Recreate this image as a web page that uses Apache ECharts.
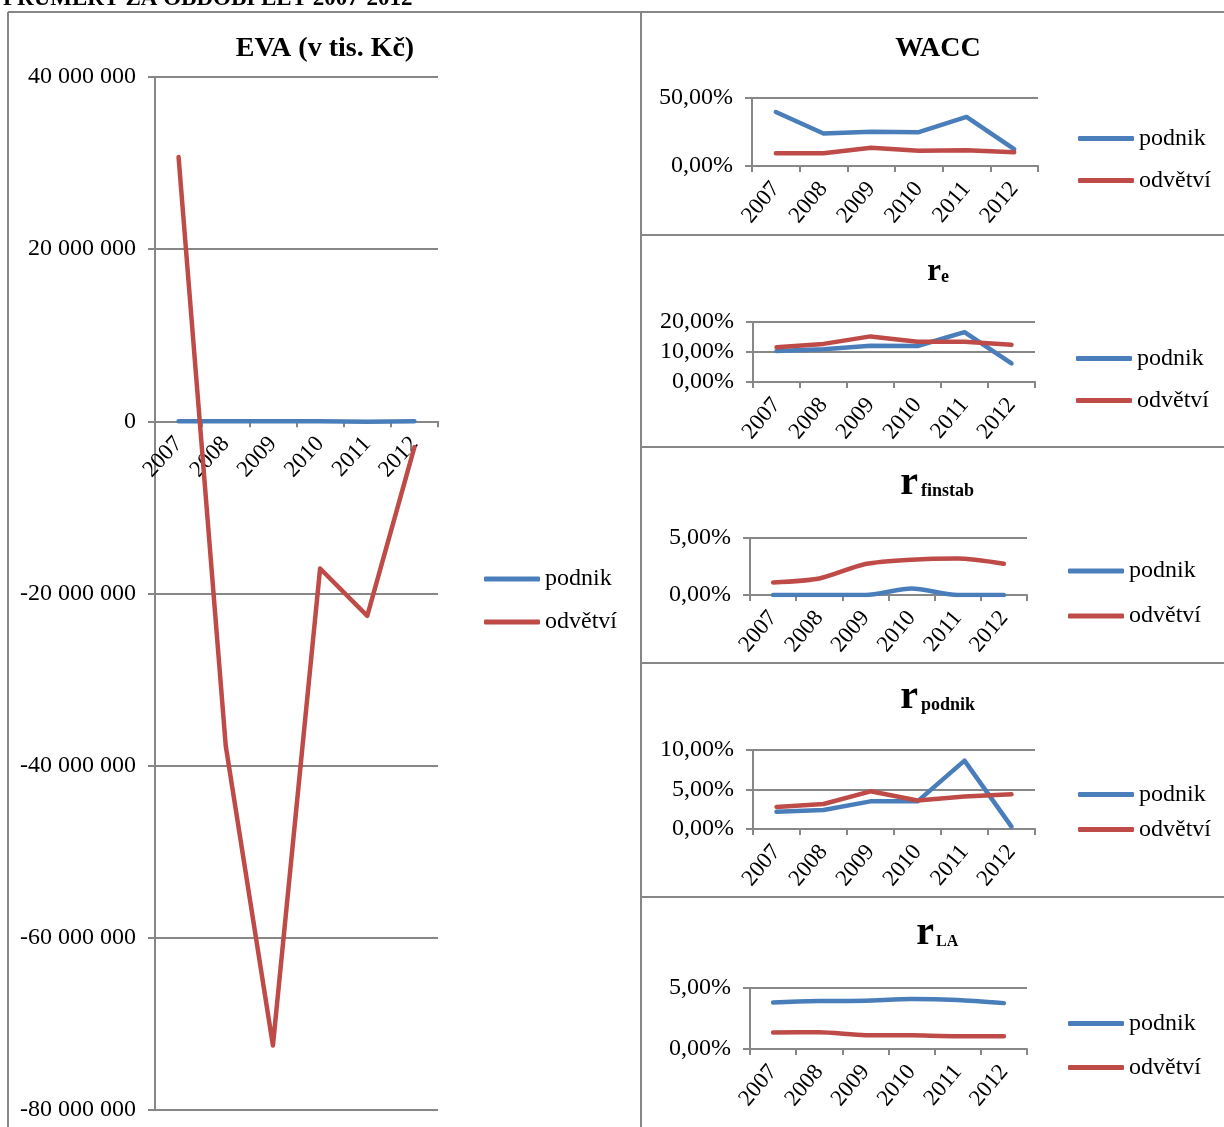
<!DOCTYPE html>
<html><head><meta charset="utf-8">
<script src="https://cdn.jsdelivr.net/npm/echarts@6/dist/echarts.min.js"></script>
<style>html,body{margin:0;padding:0;background:#fff}#c{width:1224px;height:1127px}</style>
</head><body><div id="c"></div>
<script>
// ---------- DATA ----------
const years = ['2007', '2008', '2009', '2010', '2011', '2012'];
const seriesNames = ['podnik', 'odvětví'];

const evaPodnik   = [20000, 10000, 15000, 20000, -60000, 10000];
const evaOdvetvi  = [30700000, -37700000, -72500000, -17100000, -22600000, -3000000];

const waccPodnik  = [39.7, 23.9, 25.1, 24.9, 36.1, 12.4];
const waccOdvetvi = [9.3, 9.3, 13.4, 11.2, 11.5, 10.2];

const rePodnik    = [10.3, 10.9, 12.1, 12.0, 16.6, 6.2];
const reOdvetvi   = [11.6, 12.7, 15.2, 13.4, 13.4, 12.4];

const finstabPodnik  = [0, 0, 0, 0.57, 0, 0];
const finstabOdvetvi = [1.1, 1.45, 2.72, 3.1, 3.2, 2.75];

const rpodPodnik  = [2.19, 2.4, 3.5, 3.5, 8.65, 0.3];
const rpodOdvetvi = [2.8, 3.16, 4.77, 3.6, 4.1, 4.4];

const rlaPodnik   = [3.82, 3.93, 3.96, 4.09, 4.01, 3.76];
const rlaOdvetvi  = [1.35, 1.37, 1.13, 1.12, 1.05, 1.05];

const headerText = 'PRŮMĚRY ZA OBDOBÍ LET 2007-2012';

// ---------- STYLE ----------
const FONT = '"Liberation Serif", "Times New Roman", serif';
const GRAY = '#878787';
const BLUE = '#4A7EBB';
const RED = '#BE4B48';

function pct(v) { return v.toFixed(2).replace('.', ',') + '%'; }
function spaced(v) {
  const s = Math.abs(v).toString().replace(/\B(?=(\d{3})+(?!\d))/g, ' ');
  return (v < 0 ? '-' : '') + s;
}

const panels = [
  { grid: {left:155, top:77, width:283, height:1033}, min:-80000000, max:40000000, interval:20000000, fmt:spaced,
    xfs:23, xrot:47, xmargin:19, smooth:false, data:[evaPodnik, evaOdvetvi], lg:{left:484, top:567, gap:19} },
  { grid: {left:752, top:98, width:286, height:68}, min:0, max:50, interval:50, fmt:pct,
    xfs:23, xrot:50, xmargin:19, smooth:false, data:[waccPodnik, waccOdvetvi], lg:{left:1078, top:126.5, gap:18} },
  { grid: {left:753, top:322, width:282, height:60}, min:0, max:20, interval:10, fmt:pct,
    xfs:23, xrot:50, xmargin:19, smooth:false, data:[rePodnik, reOdvetvi], lg:{left:1076, top:346.5, gap:18} },
  { grid: {left:750, top:538, width:277, height:57}, min:0, max:5, interval:5, fmt:pct,
    xfs:23, xrot:50, xmargin:19, smooth:true, data:[finstabPodnik, finstabOdvetvi], lg:{left:1068, top:559, gap:21} },
  { grid: {left:753, top:750, width:282, height:79}, min:0, max:10, interval:5, fmt:pct,
    xfs:23, xrot:50, xmargin:19, smooth:false, data:[rpodPodnik, rpodOdvetvi], lg:{left:1078, top:782.5, gap:11} },
  { grid: {left:750, top:988, width:277, height:61}, min:0, max:5, interval:5, fmt:pct,
    xfs:23, xrot:50, xmargin:19, smooth:true, data:[rlaPodnik, rlaOdvetvi], lg:{left:1068, top:1011.5, gap:20} }
];

const grids = [], xAxes = [], yAxes = [], series = [], legends = [];
panels.forEach((p, i) => {
  grids.push(Object.assign({containLabel:false, outerBoundsMode:'none'}, p.grid));
  xAxes.push({
    type:'category', gridIndex:i, data:years, boundaryGap:true,
    axisLine:{show:true, onZero:(i !== 0), lineStyle:{color:GRAY, width:2}},
    axisTick:{show:true, length:6, lineStyle:{color:GRAY, width:2}},
    axisLabel:{interval:0, rotate:p.xrot, margin:p.xmargin, fontSize:p.xfs, fontFamily:FONT, color:'#000'},
    splitLine:{show:false}
  });
  yAxes.push({
    type:'value', gridIndex:i, min:p.min, max:p.max, interval:p.interval,
    axisLine:{show:true, lineStyle:{color:GRAY, width:2}},
    axisTick:{show:true, length:7, lineStyle:{color:GRAY, width:2}},
    axisLabel:{formatter:p.fmt, margin:19, fontSize:24, fontFamily:FONT, color:'#000'},
    splitLine:{show:true, lineStyle:{color:GRAY, width:2}}
  });
  [BLUE, RED].forEach((c, k) => {
    series.push({
      type:'line', name:seriesNames[k], xAxisIndex:i, yAxisIndex:i, data:p.data[k],
      symbol:'none', smooth:p.smooth ? 0.25 : false, color:c,
      lineStyle:{color:c, width:4.5, cap:'round', join:'round'}, z:3 + k
    });
  });
  legends.push({
    data:seriesNames, orient:'vertical', left:p.lg.left, top:p.lg.top, itemGap:p.lg.gap,
    padding:0, icon:'roundRect', itemWidth:56, itemHeight:5, selectedMode:false,
    textStyle:{fontSize:24, fontFamily:FONT, color:'#000'}
  });
});

function txt(x, y, text, size, bold, align) {
  return { type:'text', x:x, y:y, z:10, silent:true,
    style:{ text:text, font:(bold ? 'bold ' : '') + size + 'px ' + FONT, fill:'#000',
      align:align, verticalAlign:'middle', textAlign:align, textVerticalAlign:'middle' } };
}
function ln(x1, y1, x2, y2) {
  return { type:'line', z:1, silent:true, shape:{x1:x1, y1:y1, x2:x2, y2:y2},
    style:{stroke:GRAY, lineWidth:2} };
}

const graphics = [
  txt(3, -1.2, headerText, 23, true, 'left'),
  ln(8, 12, 1224, 12), ln(8, 12, 8, 1127), ln(641, 12, 641, 1127),
  ln(641, 235, 1224, 235), ln(641, 447, 1224, 447), ln(641, 663, 1224, 663), ln(641, 897, 1224, 897),
  txt(325, 48.5, 'EVA (v tis. Kč)', 28, true, 'center'),
  txt(938, 48.5, 'WACC', 28, true, 'center'),
  txt(941, 271.9, 'r', 31, true, 'right'), txt(941, 276.9, 'e', 18, true, 'left'),
  txt(918, 483.5, 'r', 40, true, 'right'), txt(921, 490.9, 'finstab', 18, true, 'left'),
  txt(918, 697.5, 'r', 40, true, 'right'), txt(921, 704.9, 'podnik', 18, true, 'left'),
  txt(934, 933.5, 'r', 40, true, 'right'), txt(936, 941.6, 'LA', 16, true, 'left')
];

const chart = echarts.init(document.getElementById('c'), null, {renderer:'canvas'});
chart.setOption({
  animation:false, backgroundColor:'#fff',
  grid:grids, xAxis:xAxes, yAxis:yAxes, series:series, legend:legends,
  graphic:{elements:graphics}
});
// Move the EVA category axis (line, ticks and labels) to the zero value, using the library's scale
const yZero = chart.convertToPixel({yAxisIndex:0}, 0);
const yMin = chart.convertToPixel({yAxisIndex:0}, panels[0].min);
chart.setOption({xAxis:[{offset: -(yMin - yZero)}]});
</script></body></html>
